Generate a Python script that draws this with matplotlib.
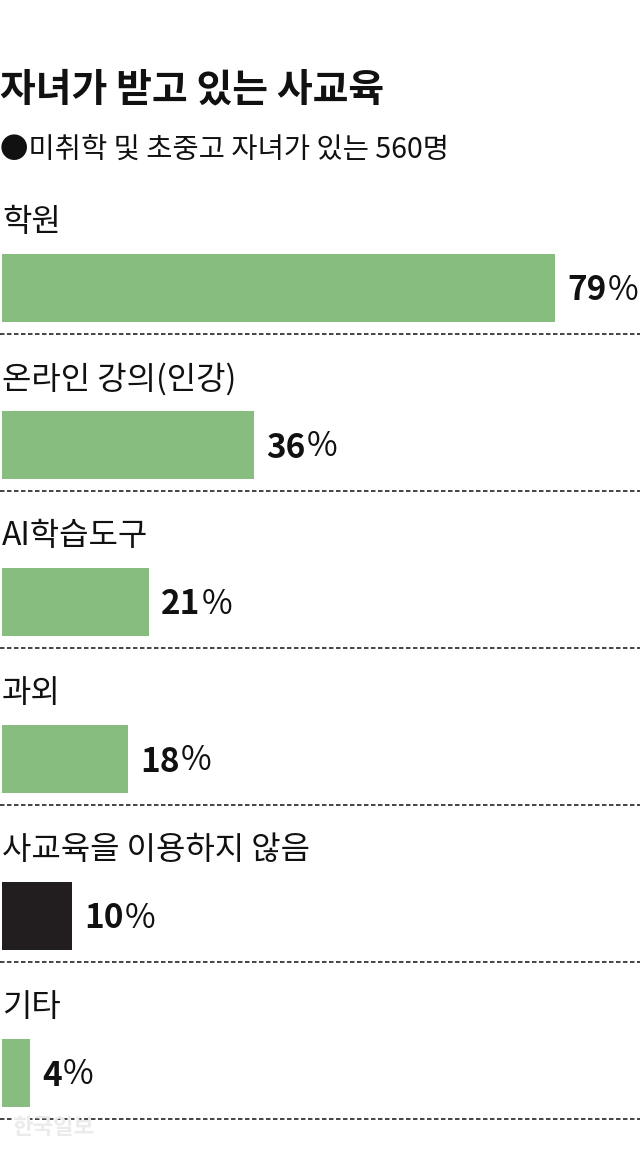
import matplotlib.pyplot as plt

plt.rcParams['font.family'] = ['Noto Sans CJK KR', 'DejaVu Sans']

title = '자녀가 받고 있는 사교육'
subtitle = '●미취학 및 초중고 자녀가 있는 560명'
categories = ['학원', '온라인 강의(인강)', 'AI학습도구', '과외', '사교육을 이용하지 않음', '기타']
values = [79, 36, 21, 18, 10, 4]
bar_colors = ['#88bd80', '#88bd80', '#88bd80', '#88bd80', '#221e1f', '#88bd80']

# layout in pixels (figure is 640 x 1150)
W, H = 640, 1150
px_per_pct = 7.0
left_px = 2
row0 = 288      # centre of first bar
step = 157      # row pitch
bar_h = 68

fig = plt.figure(figsize=(W / 100, H / 100), dpi=100)
ax = fig.add_axes([0, 0, 1, 1])
ax.set_xlim(-left_px / px_per_pct, (W - left_px) / px_per_pct)
ax.set_ylim(H, 0)
ax.axis('off')

ys = [row0 + step * i for i in range(len(values))]

ax.barh(ys, values, height=bar_h, left=0, color=bar_colors, edgecolor='none')

pad = 12 / px_per_pct
x0, x1 = ax.get_xlim()
for y, cat, v in zip(ys, categories, values):
    ax.text(0, y - 66, cat, fontsize=23, va='center', ha='left', color='#111111')
    t = ax.text(v + pad, y + 3, str(v), fontsize=24, fontweight='bold',
                va='center', ha='left', color='#111111')
    ax.annotate('%', xy=(1, 0), xycoords=t, xytext=(1, 0), textcoords='offset points',
                fontsize=24, va='bottom', ha='left', color='#111111')
    ax.plot([x0, x1], [y + 46, y + 46], color='#444444',
            linewidth=1.4, linestyle=(0, (2.3, 1.3)))

ax.text(x0, 90, title, fontsize=28, fontweight='bold',
        va='center', ha='left', color='#111111')
ax.text(x0, 150, subtitle, fontsize=20.5,
        va='center', ha='left', color='#111111')

# faint watermark
ax.text(10 / px_per_pct, 1128, '한국일보', fontsize=16, fontweight='bold',
        va='center', ha='left', color='#ebebeb')

fig.savefig('out.png', dpi=100)
